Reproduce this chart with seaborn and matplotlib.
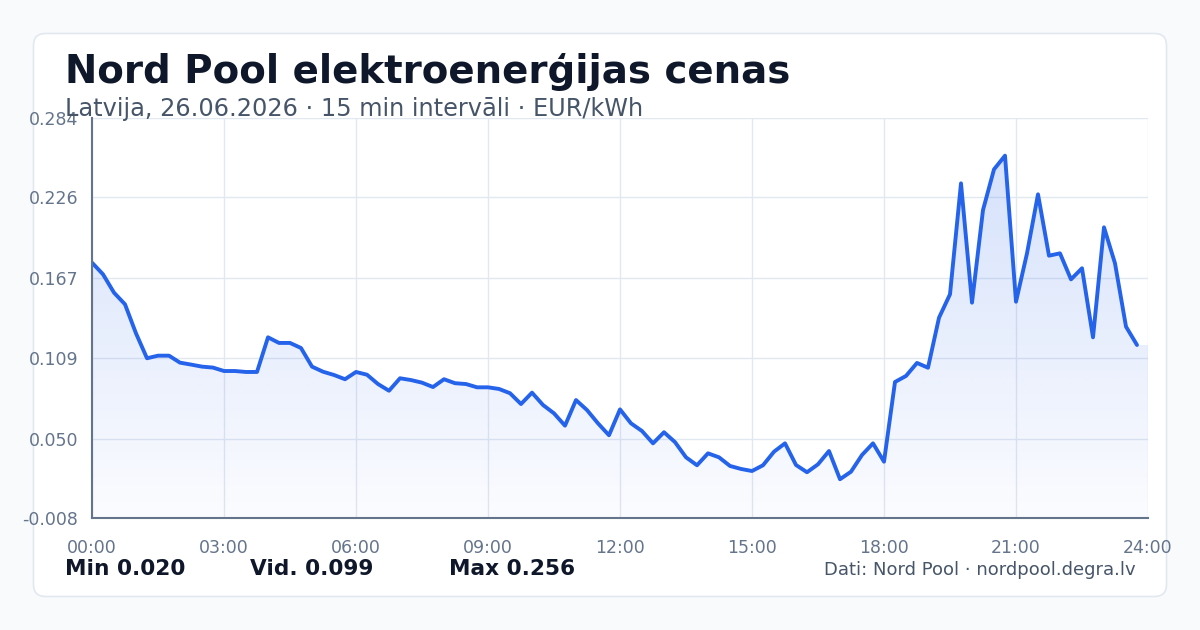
import numpy as np
import pandas as pd
import matplotlib
matplotlib.use("Agg")
import matplotlib.pyplot as plt
from matplotlib.patches import FancyBboxPatch
import seaborn as sns

# ---- data ----
prices = [
    0.1784, 0.1699, 0.1565, 0.1480, 0.1268, 0.1086, 0.1105, 0.1105, 0.1054, 0.1040, 0.1025, 0.1018,
    0.0993, 0.0993, 0.0986, 0.0986, 0.1239, 0.1198, 0.1198, 0.1161, 0.1025, 0.0988, 0.0964, 0.0933,
    0.0986, 0.0966, 0.0898, 0.0849, 0.0940, 0.0927, 0.0908, 0.0876, 0.0933, 0.0904, 0.0898, 0.0874,
    0.0874, 0.0862, 0.0831, 0.0752, 0.0835, 0.0745, 0.0684, 0.0594, 0.0781, 0.0708, 0.0611, 0.0524,
    0.0713, 0.0611, 0.0555, 0.0465, 0.0546, 0.0474, 0.0363, 0.0305, 0.0392, 0.0363, 0.0300, 0.0278,
    0.0263, 0.0305, 0.0404, 0.0465, 0.0307, 0.0254, 0.0312, 0.0409, 0.0203, 0.0258, 0.0380, 0.0465,
    0.0331, 0.0913, 0.0957, 0.1052, 0.1017, 0.1382, 0.1553, 0.2363, 0.1492, 0.2168, 0.2465, 0.2565,
    0.1499, 0.1852, 0.2283, 0.1835, 0.1852, 0.1662, 0.1743, 0.1239, 0.2042, 0.1779, 0.1317, 0.1183,
]
hours = [i * 0.25 for i in range(len(prices))]
y_ticks = [-0.008, 0.050, 0.109, 0.167, 0.226, 0.284]
y_tick_labels = ["-0.008", "0.050", "0.109", "0.167", "0.226", "0.284"]
x_ticks = [0, 3, 6, 9, 12, 15, 18, 21, 24]
x_tick_labels = ["00:00", "03:00", "06:00", "09:00", "12:00", "15:00", "18:00", "21:00", "24:00"]
title = "Nord Pool elektroenerģijas cenas"
subtitle = "Latvija, 26.06.2026 · 15 min intervāli · EUR/kWh"
stat_min = "Min 0.020"
stat_avg = "Vid. 0.099"
stat_max = "Max 0.256"
source = "Dati: Nord Pool · nordpool.degra.lv"

df = pd.DataFrame({"hour": hours, "price": prices})

sns.set_theme(style="white")
plt.rcParams["font.family"] = ["DejaVu Sans"]

W, H = 1200, 630
fig = plt.figure(figsize=(12, 6.3), dpi=100)
fig.patch.set_facecolor("#f8fafc")

# background card in pixel coordinates
bg = fig.add_axes([0, 0, 1, 1], zorder=0)
bg.set_xlim(0, W)
bg.set_ylim(H, 0)
bg.axis("off")
card = FancyBboxPatch((33.5, 33.5), 1133, 563, boxstyle="round,pad=0,rounding_size=12",
                      facecolor="white", edgecolor="#e2e8f0", linewidth=1.2)
bg.add_patch(card)

ax = fig.add_axes([92 / W, 1 - 518 / H, 1056 / W, 400 / H], zorder=2)
ax.set_facecolor("none")
ymin, ymax = y_ticks[0], y_ticks[-1]
ax.set_xlim(0, 24)
ax.set_ylim(ymin, ymax)

# gradient fill under the line (extends last value to 24:00)
xf = hours + [24]
yf = prices + [prices[-1]]
poly = ax.fill_between(xf, yf, ymin, color="none", linewidth=0)
n = 256
alpha = np.linspace(0.02, 0.21, n)
grad = np.zeros((n, 1, 4))
grad[:, 0, 0] = 37 / 255
grad[:, 0, 1] = 99 / 255
grad[:, 0, 2] = 235 / 255
grad[:, 0, 3] = alpha
im = ax.imshow(grad, extent=[0, 24, ymin, ymax], origin="lower", aspect="auto",
               interpolation="bilinear", zorder=1)
im.set_clip_path(poly.get_paths()[0], transform=ax.transData)

sns.lineplot(data=df, x="hour", y="price", ax=ax, color="#2563eb", linewidth=2.8,
             solid_joinstyle="round", solid_capstyle="round", zorder=3)

ax.set_xticks(x_ticks)
ax.set_xticklabels(x_tick_labels)
ax.set_yticks(y_ticks)
ax.set_yticklabels(y_tick_labels)
ax.set_xlabel("")
ax.set_ylabel("")
ax.grid(True, color="#e2e8f0", linewidth=1)
ax.set_axisbelow(True)
ax.tick_params(axis="both", length=0, labelcolor="#64748b", labelsize=12.5)
ax.tick_params(axis="x", pad=15)
ax.tick_params(axis="y", pad=10)
for s in ["top", "right"]:
    ax.spines[s].set_visible(False)
for s in ["left", "bottom"]:
    ax.spines[s].set_color("#64748b")
    ax.spines[s].set_linewidth(1.5)
    ax.spines[s].set_zorder(4)

def fx(px):
    return px / W

def fy(py):
    return 1 - py / H

fig.text(fx(65), fy(83), title, fontsize=27.9, fontweight="bold", color="#0f172a", va="baseline")
fig.text(fx(65), fy(116), subtitle, fontsize=17.3, color="#475569", va="baseline")
fig.text(fx(65), fy(575), stat_min, fontsize=15.6, fontweight="bold", color="#0f172a", va="baseline")
fig.text(fx(250), fy(575), stat_avg, fontsize=15.6, fontweight="bold", color="#0f172a", va="baseline")
fig.text(fx(449), fy(575), stat_max, fontsize=15.6, fontweight="bold", color="#0f172a", va="baseline")
fig.text(fx(1136), fy(575), source, fontsize=12.95, color="#475569", va="baseline", ha="right")

fig.savefig("out.png", dpi=100, facecolor=fig.get_facecolor())
